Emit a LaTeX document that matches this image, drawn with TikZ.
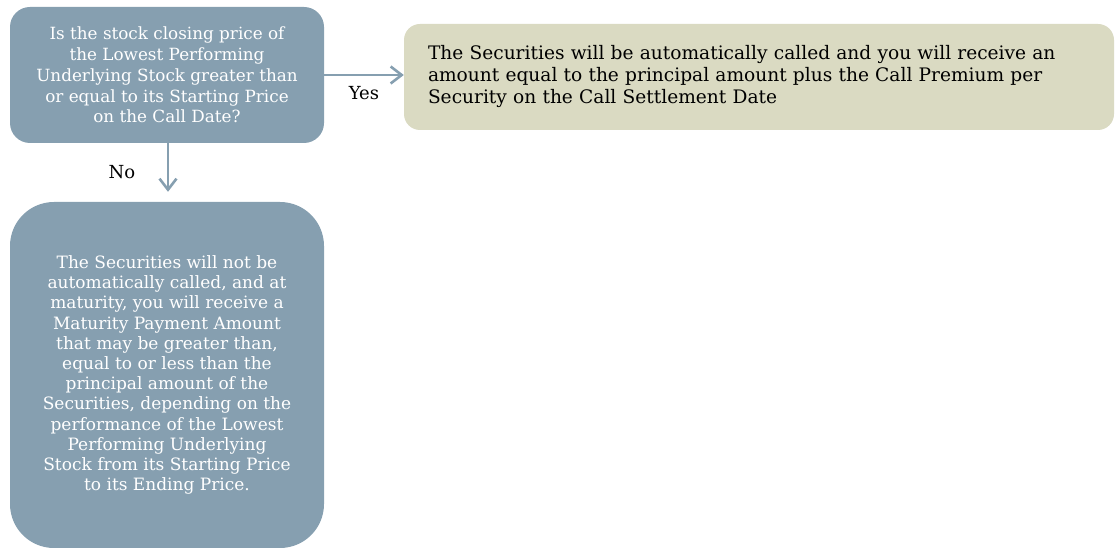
\documentclass[tikz,border=0pt]{standalone}
\usepackage{fontspec}
\setmainfont{DejaVu Serif}
\usetikzlibrary{arrows.meta}
\definecolor{bluegray}{HTML}{869FB0}
\definecolor{khaki}{HTML}{DADAC2}
\begin{document}
\begin{tikzpicture}[x=1pt,y=-1pt,
  qbox/.style={fill=bluegray, draw=none, text=white, align=center},
  rbox/.style={fill=khaki, draw=none, text=black, align=left, font=\fontsize{18.6}{22}\selectfont},
  conn/.style={draw=bluegray, line width=2.6pt, -{Straight Barb[length=11pt,width=17pt,line width=2.6pt]}},
  lbl/.style={text=black, font=\fontsize{18}{20}\selectfont}]
\useasboundingbox (0,0) rectangle (1116,548);
\node[qbox, font=\fontsize{16.8}{20.8}\selectfont, minimum width=314pt, minimum height=136pt, rounded corners=20pt, inner sep=0pt] (q) at (167,75)
  {Is the stock closing price of\\the Lowest Performing\\Underlying Stock greater than\\or equal to its Starting Price\\on the Call Date?};
\node[rbox, minimum width=710pt, minimum height=106pt, rounded corners=16pt, inner sep=0pt, text width=662pt] (r) at (759,77)
  {The Securities will be automatically called and you will receive an\\amount equal to the principal amount plus the Call Premium per\\Security on the Call Settlement Date};
\node[qbox, font=\fontsize{17}{20.2}\selectfont, minimum width=314pt, minimum height=346pt, rounded corners=44pt, inner sep=0pt] (n) at (167,375)
  {The Securities will not be\\automatically called, and at\\maturity, you will receive a\\Maturity Payment Amount\\that may be greater than,\\equal to or less than the\\principal amount of the\\Securities, depending on the\\performance of the Lowest\\Performing Underlying\\Stock from its Starting Price\\to its Ending Price.};
\coordinate (qy) at (q.east |- 0,75);
\draw[conn] (qy) -- (qy -| r.west);
\draw[conn, shorten >=10pt] (q.south -| 168,0) -- (n.north -| 168,0);
\node[lbl] (yes) at (364,93) {Yes};
\node[lbl] (no) at (122,172) {No};
\end{tikzpicture}
\end{document}
